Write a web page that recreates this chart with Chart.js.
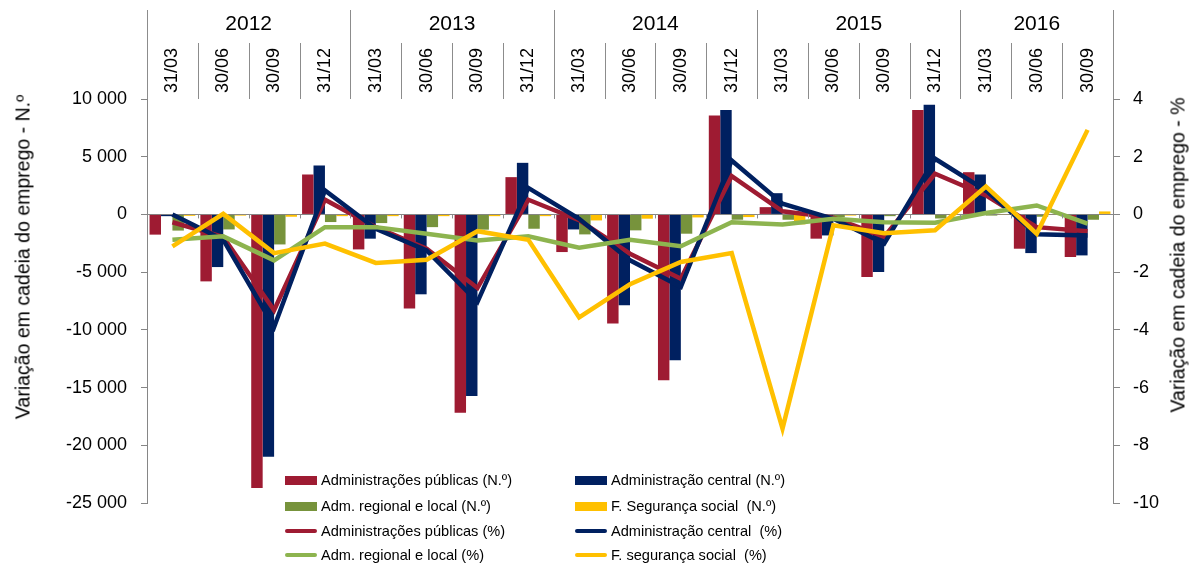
<!DOCTYPE html>
<html><head><meta charset="utf-8">
<script src="https://cdn.jsdelivr.net/npm/chart.js@4.4.1/dist/chart.umd.min.js"></script>
<style>
html,body{margin:0;padding:0;background:#fff;}
#wrap{position:relative;width:1189px;height:567px;overflow:hidden;font-family:'Liberation Sans',Arial,sans-serif;}
canvas{position:absolute;left:0;top:0;}
.ytitle{position:absolute;font-size:19.5px;color:#000;white-space:nowrap;transform:translate(-50%,-50%) rotate(-90deg);}
.leg{position:absolute;font-size:14.6px;color:#000;white-space:pre;display:flex;align-items:center;transform:translateY(-50%);}
.mk{display:inline-block;width:32px;margin-right:4px;}
</style></head>
<body><div id="wrap"><canvas id="c" width="1189" height="567"></canvas>
<div class="ytitle" style="left:23px;top:257px">Variação em cadeia do emprego - N.º</div>
<div class="ytitle" style="left:1178px;top:255px">Variação em cadeia do emprego - %</div>
<div id="legend"></div></div>
<script>
const quarterLabels = ['31/03','30/06','30/09','31/12','31/03','30/06','30/09','31/12','31/03','30/06','30/09','31/12','31/03','30/06','30/09','31/12','31/03','30/06','30/09'];
const years = ['2012','2013','2014','2015','2016'];

const apN  = [-1750,-5800,-23700,3460,-3030,-8160,-17190,3230,-3260,-9450,-14360,8560,630,-2100,-5420,9050,3660,-2970,-3690];
const acN  = [-150,-4560,-21000,4240,-2100,-6920,-15740,4470,-1300,-7870,-12630,9050,1840,-1820,-4990,9510,3460,-3350,-3550];
const arlN = [-1400,-1300,-2600,-660,-750,-1100,-1320,-1240,-1730,-1380,-1670,-460,-460,-250,-150,-350,-100,-200,-460];
const fssN = [-120,-100,-200,-150,-150,-150,-150,-150,-520,-370,-260,-230,-860,-100,-50,-50,-30,-50,260];

const apPct  = [-0.27,-0.78,-3.32,0.51,-0.44,-1.19,-2.55,0.51,-0.2,-1.36,-2.23,1.33,0.11,-0.11,-0.78,1.41,0.66,-0.44,-0.58];
const acPct  = [0.0,-0.88,-3.9,0.83,-0.5,-1.25,-3.03,0.92,-0.15,-1.59,-2.51,1.87,0.37,-0.15,-1.01,1.93,0.83,-0.69,-0.73];
const arlPct = [-0.88,-0.76,-1.59,-0.44,-0.44,-0.67,-0.9,-0.76,-1.15,-0.88,-1.1,-0.27,-0.35,-0.15,-0.27,-0.29,0.05,0.31,-0.32];
const fssPct = [-1.11,0.02,-1.34,-1.01,-1.68,-1.57,-0.58,-0.88,-3.57,-2.42,-1.65,-1.34,-7.42,-0.38,-0.65,-0.55,0.97,-0.67,2.93];

const leftTicks = {min:-25000, max:10000, step:5000};
const rightTicks = {min:-10, max:4, step:2};

const FONT = "'Liberation Sans', Arial, sans-serif";
const C_RED = '#9E1B32', C_NAVY = '#002060', C_GREEN = '#77933C', C_GREEN_L = '#8DB44F', C_YEL = '#FFC000';

function fmt(v){
  const s = String(Math.abs(v)).replace(/\B(?=(\d{3})+(?!\d))/g,' ');
  return (v<0?'-':'') + s;
}

const bar = (label, data, color, order) => ({type:'bar', label, data, backgroundColor:color, borderWidth:0, yAxisID:'y', categoryPercentage:0.9, barPercentage:1.0, order});
const line = (label, data, color, order) => ({type:'line', label, data, borderColor:color, backgroundColor:color, borderWidth:4.5, pointRadius:0, tension:0, yAxisID:'y1', order, borderJoinStyle:'miter'});

const datasets = [
  bar('Administrações públicas (N.º)', apN, C_RED, 10),
  bar('Administração central (N.º)', acN, C_NAVY, 11),
  bar('Adm. regional e local (N.º)', arlN, C_GREEN, 12),
  bar('F. Segurança social  (N.º)', fssN, C_YEL, 13),
  line('Administrações públicas (%)', apPct, C_RED, 3),
  line('Administração central  (%)', acPct, C_NAVY, 2),
  line('Adm. regional e local (%)', arlPct, C_GREEN_L, 1),
  line('F. segurança social  (%)', fssPct, C_YEL, 0)
];

const decor = {
  id:'decor',
  afterDraw(chart){
    const {ctx, chartArea:ca, scales} = chart;
    const x = scales.x, n = quarterLabels.length;
    const step = x.getPixelForValue(1) - x.getPixelForValue(0);
    const y0 = scales.y.getPixelForValue(0);
    ctx.save();
    ctx.strokeStyle = '#8c8c8c'; ctx.lineWidth = 1;
    for (let i=0;i<=n;i++){
      const bx = Math.round(x.getPixelForValue(i) - step/2) + 0.5;
      const edge = (i%4===0) || i===n;
      ctx.beginPath(); ctx.moveTo(bx, edge?10:43); ctx.lineTo(bx, ca.top); ctx.stroke();
      if (i>0 && i<n){ ctx.beginPath(); ctx.moveTo(bx, y0); ctx.lineTo(bx, y0+4); ctx.stroke(); }
    }
    ctx.fillStyle = '#000'; ctx.font = '21px ' + FONT; ctx.textAlign='center'; ctx.textBaseline='middle';
    years.forEach((yr,k)=>{
      const first = 4*k, last = Math.min(4*k+3, n-1);
      ctx.fillText(yr, (x.getPixelForValue(first)+x.getPixelForValue(last))/2, 24);
    });
    ctx.restore();
  }
};

const chart = new Chart(document.getElementById('c'), {
  type:'bar',
  data:{labels:quarterLabels, datasets},
  options:{
    responsive:false, animation:false, devicePixelRatio:1,
    layout:{padding:{top:0,left:0,right:0,bottom:64}},
    plugins:{legend:{display:false}, tooltip:{enabled:false}},
    scales:{
      x:{position:'top', offset:true, grid:{display:false}, border:{display:false},
         ticks:{autoSkip:false, minRotation:90, maxRotation:90, padding:-2, labelOffset:21.6, color:'#000', font:{family:FONT, size:18}},
         afterFit:s=>{s.height=99;}},
      y:{position:'left', min:leftTicks.min, max:leftTicks.max,
         ticks:{stepSize:leftTicks.step, callback:v=>fmt(v), padding:14, color:'#000', font:{family:FONT, size:18}},
         grid:{drawOnChartArea:true, color:c=>(c.tick && c.tick.value===0)?'#868686':'rgba(0,0,0,0)', tickColor:'#868686', tickLength:6},
         border:{display:true, color:'#868686'},
         afterFit:s=>{s.width=147;}},
      y1:{position:'right', min:rightTicks.min, max:rightTicks.max,
         ticks:{stepSize:rightTicks.step, padding:13, color:'#000', font:{family:FONT, size:18}},
         grid:{drawOnChartArea:false, tickColor:'#868686', tickLength:7},
         border:{display:true, color:'#868686'},
         afterFit:s=>{s.width=76;}}
    }
  },
  plugins:[decor]
});

// HTML legend built from the datasets
const legendOrder = [0,1,2,3,4,5,6,7];
const colX = [285, 575], rowY = [480, 506, 531, 555];
const lg = document.getElementById('legend');
legendOrder.forEach((di, k)=>{
  const ds = datasets[di];
  const el = document.createElement('div');
  el.className = 'leg';
  el.style.left = colX[k%2] + 'px';
  el.style.top = rowY[Math.floor(k/2)] + 'px';
  const mk = document.createElement('span');
  mk.className = 'mk';
  if (ds.type === 'bar'){ mk.style.height='9px'; mk.style.background = ds.backgroundColor; }
  else { mk.style.height='4px'; mk.style.borderRadius='2px'; mk.style.background = ds.borderColor; }
  el.appendChild(mk);
  el.appendChild(document.createTextNode(ds.label));
  lg.appendChild(el);
});
</script>
</body></html>
